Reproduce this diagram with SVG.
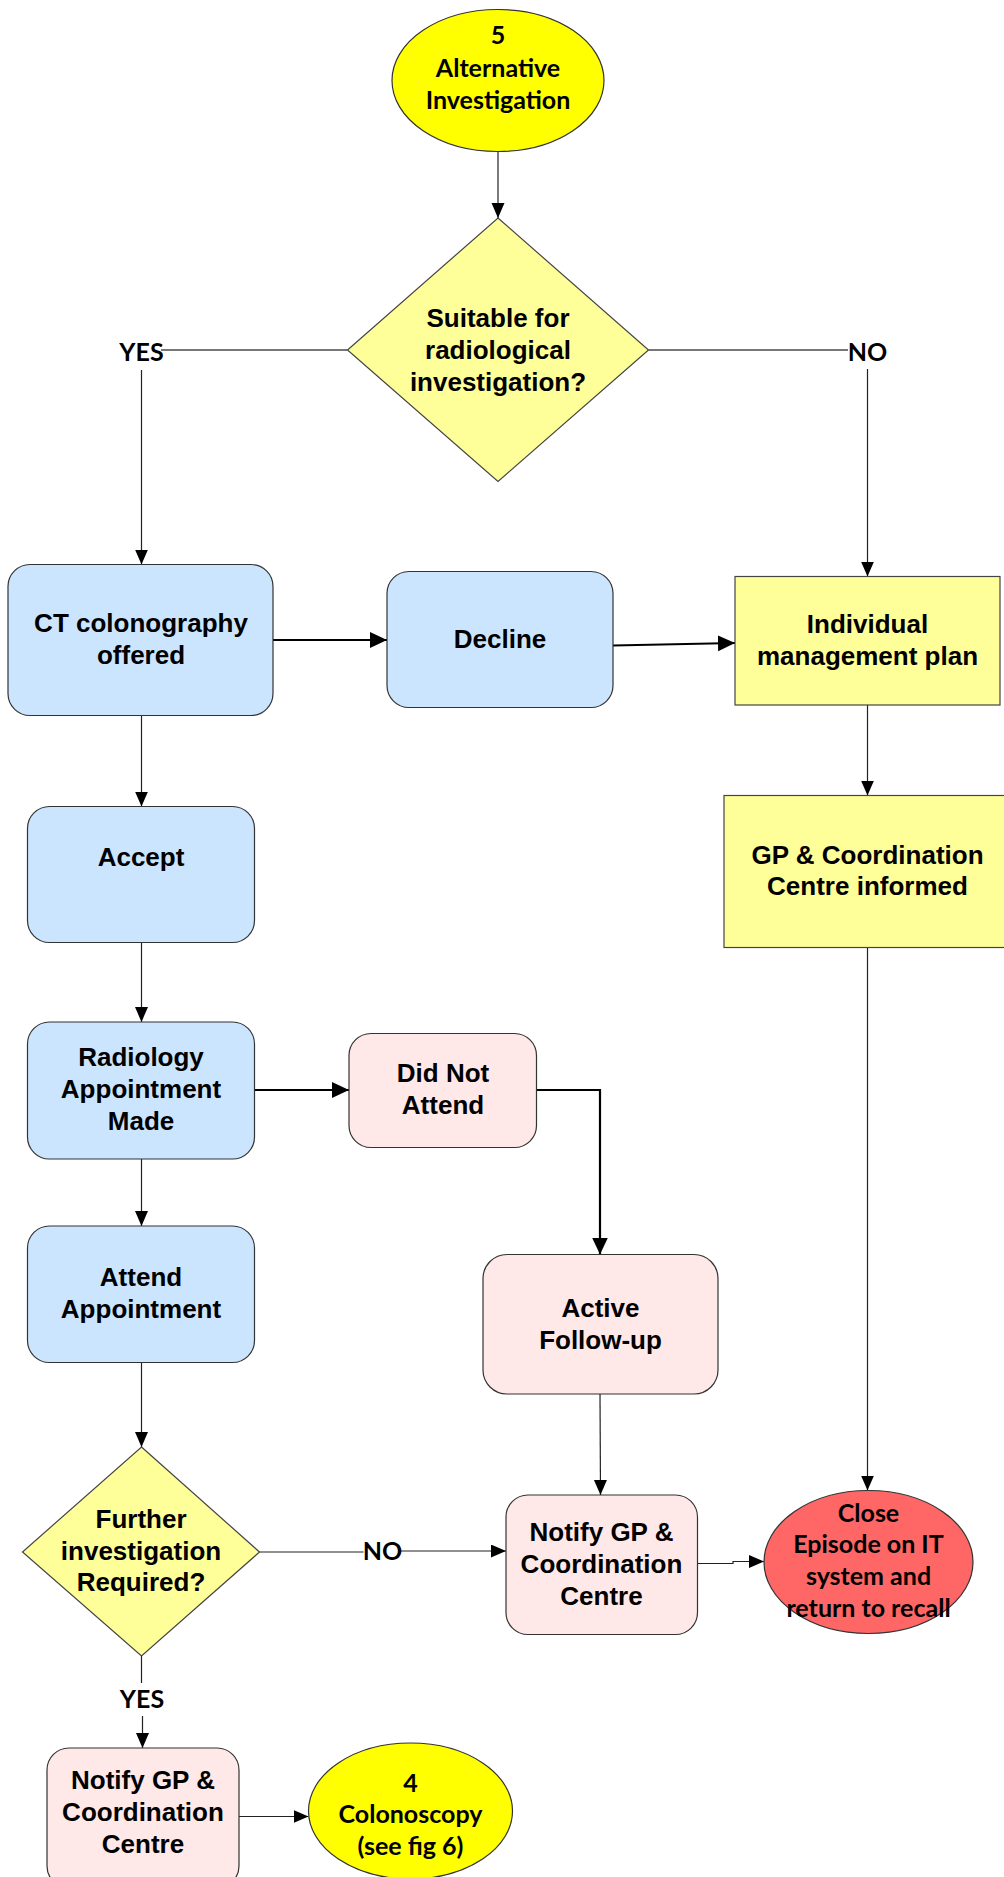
<svg xmlns="http://www.w3.org/2000/svg" width="1004" height="1877" viewBox="0 0 1004 1877">
<style>
.a{font-family:"Liberation Sans",Arial,sans-serif;font-weight:bold;font-size:26px;text-anchor:middle;fill:#000}
.c{font-family:Lato,"Open Sans",sans-serif;font-weight:bold;font-size:25px;text-anchor:middle;fill:#000}
.blue{fill:#CCE5FF;stroke:#333;stroke-width:1.2}
.pink{fill:#FFE8E8;stroke:#333;stroke-width:1.2}
.ylw{fill:#FFFF99;stroke:#444;stroke-width:1.2}
.ln{fill:none;stroke:#222;stroke-width:1.2}
.thk{fill:none;stroke:#000;stroke-width:2.2}
.gry{fill:none;stroke:#777;stroke-width:1.8}
</style>
<defs>
<marker id="ah" markerUnits="userSpaceOnUse" markerWidth="15" markerHeight="14" refX="15" refY="6.5" orient="auto"><path d="M0,0 L15,6.5 L0,13 z" fill="#000"/></marker>
<marker id="ahL" markerUnits="userSpaceOnUse" markerWidth="17" markerHeight="17" refX="17" refY="8" orient="auto"><path d="M0,0 L17,8 L0,16 z" fill="#000"/></marker>
</defs>
<rect width="1004" height="1877" fill="#fff"/>
<g id="connectors">
<line class="ln" x1="498" y1="152" x2="498" y2="218" marker-end="url(#ah)"/>
<line class="gry" x1="347.5" y1="350" x2="161" y2="350"/>
<line class="ln" x1="141.5" y1="370" x2="141.5" y2="564.5" marker-end="url(#ah)"/>
<line class="gry" x1="648.5" y1="350" x2="848" y2="350"/>
<line class="ln" x1="867.5" y1="369" x2="867.5" y2="576.5" marker-end="url(#ah)"/>
<line class="thk" x1="273" y1="640" x2="387" y2="640" marker-end="url(#ahL)"/>
<line class="thk" x1="613" y1="645.5" x2="735" y2="643" marker-end="url(#ahL)"/>
<line class="ln" x1="141.5" y1="715.5" x2="141.5" y2="806.5" marker-end="url(#ah)"/>
<line class="ln" x1="867.5" y1="705" x2="867.5" y2="795.5" marker-end="url(#ah)"/>
<line class="ln" x1="141.5" y1="942.5" x2="141.5" y2="1022" marker-end="url(#ah)"/>
<line class="ln" x1="867.5" y1="947.5" x2="867.5" y2="1490.5" marker-end="url(#ah)"/>
<line class="thk" x1="254.5" y1="1090" x2="349" y2="1090" marker-end="url(#ahL)"/>
<polyline class="thk" points="536.5,1090 600,1090 600,1254.5" marker-end="url(#ahL)"/>
<line class="ln" x1="141.5" y1="1159" x2="141.5" y2="1226" marker-end="url(#ah)"/>
<line class="ln" x1="600" y1="1394" x2="600.5" y2="1495" marker-end="url(#ah)"/>
<line class="ln" x1="141.5" y1="1362.5" x2="141.5" y2="1447" marker-end="url(#ah)"/>
<line class="ln" x1="259.5" y1="1552" x2="363.5" y2="1552"/>
<line class="ln" x1="401" y1="1551" x2="506" y2="1551" marker-end="url(#ah)"/>
<polyline class="ln" points="697.5,1563.5 733,1563.5 733,1561.5 764,1561.5" marker-end="url(#ah)"/>
<line class="ln" x1="141.5" y1="1656" x2="141.5" y2="1683"/>
<line class="ln" x1="142.5" y1="1716" x2="142.5" y2="1748" marker-end="url(#ah)"/>
<line class="ln" x1="239" y1="1816.5" x2="308.5" y2="1816.5" marker-end="url(#ah)"/>
<text class="c" x="141.5" y="361">YES</text>
<text class="c" x="867.5" y="361">NO</text>
<text class="c" x="382.5" y="1560">NO</text>
<text class="c" x="142" y="1708">YES</text>
</g>
<g id="start">
<ellipse cx="498" cy="80.5" rx="106" ry="71" fill="#FFFF00" stroke="#333" stroke-width="1.2"/>
<text class="c" x="498" y="44">5</text>
<text class="c" x="498" y="77">Alternative</text>
<text class="c" x="498" y="109">Investigation</text>
</g>
<g id="suitable">
<polygon class="ylw" points="498,218 648.5,350 498,481.5 347.5,350"/>
<text class="a" x="498" y="327">Suitable for</text>
<text class="a" x="498" y="359">radiological</text>
<text class="a" x="498" y="391">investigation?</text>
</g>
<g id="ct">
<rect class="blue" x="8" y="564.5" width="265" height="151" rx="22"/>
<text class="a" x="141" y="632">CT colonography</text>
<text class="a" x="141" y="664">offered</text>
</g>
<g id="decline">
<rect class="blue" x="387" y="571.5" width="226" height="136" rx="22"/>
<text class="a" x="500" y="648">Decline</text>
</g>
<g id="individual">
<rect class="ylw" x="735" y="576.5" width="265" height="128.5"/>
<text class="a" x="867.5" y="633">Individual</text>
<text class="a" x="867.5" y="665">management plan</text>
</g>
<g id="gpinformed">
<rect class="ylw" x="724" y="795.5" width="290" height="152"/>
<text class="a" x="867.5" y="864">GP &amp; Coordination</text>
<text class="a" x="867.5" y="895">Centre informed</text>
</g>
<g id="accept">
<rect class="blue" x="27.5" y="806.5" width="227" height="136" rx="22"/>
<text class="a" x="141" y="866">Accept</text>
</g>
<g id="radiology">
<rect class="blue" x="27.5" y="1022" width="227" height="137" rx="22"/>
<text class="a" x="141" y="1066">Radiology</text>
<text class="a" x="141" y="1098">Appointment</text>
<text class="a" x="141" y="1130">Made</text>
</g>
<g id="dna">
<rect class="pink" x="349" y="1033.5" width="187.5" height="114" rx="22"/>
<text class="a" x="443" y="1082">Did Not</text>
<text class="a" x="443" y="1114">Attend</text>
</g>
<g id="attend">
<rect class="blue" x="27.5" y="1226" width="227" height="136.5" rx="22"/>
<text class="a" x="141" y="1286">Attend</text>
<text class="a" x="141" y="1318">Appointment</text>
</g>
<g id="active">
<rect class="pink" x="483" y="1254.5" width="235" height="139.5" rx="24"/>
<text class="a" x="600.5" y="1317">Active</text>
<text class="a" x="600.5" y="1349">Follow-up</text>
</g>
<g id="notify1">
<rect class="pink" x="506" y="1495" width="191.5" height="139.5" rx="22"/>
<text class="a" x="601.5" y="1541">Notify GP &amp;</text>
<text class="a" x="601.5" y="1573">Coordination</text>
<text class="a" x="601.5" y="1605">Centre</text>
</g>
<g id="close">
<ellipse cx="868.5" cy="1562" rx="104.5" ry="71.5" fill="#FF6666" stroke="#333" stroke-width="1.2"/>
<text class="c" x="868.5" y="1522">Close</text>
<text class="c" x="868.5" y="1553">Episode on IT</text>
<text class="c" x="868.5" y="1585">system and</text>
<text class="c" x="868.5" y="1617">return to recall</text>
</g>
<g id="further">
<polygon class="ylw" points="141.5,1447 259.5,1552 141.5,1656 22.5,1552"/>
<text class="a" x="141" y="1528">Further</text>
<text class="a" x="141" y="1560">investigation</text>
<text class="a" x="141" y="1591">Required?</text>
</g>
<g id="notify2">
<rect class="pink" x="47" y="1748" width="192" height="140" rx="22"/>
<text class="a" x="143" y="1789">Notify GP &amp;</text>
<text class="a" x="143" y="1821">Coordination</text>
<text class="a" x="143" y="1853">Centre</text>
</g>
<g id="colonoscopy">
<ellipse cx="410.5" cy="1811" rx="102" ry="68" fill="#FFFF00" stroke="#333" stroke-width="1.2"/>
<text class="c" x="410.5" y="1792">4</text>
<text class="c" x="410.5" y="1823">Colonoscopy</text>
<text class="c" x="410.5" y="1855">(see fig 6)</text>
</g>
</svg>
